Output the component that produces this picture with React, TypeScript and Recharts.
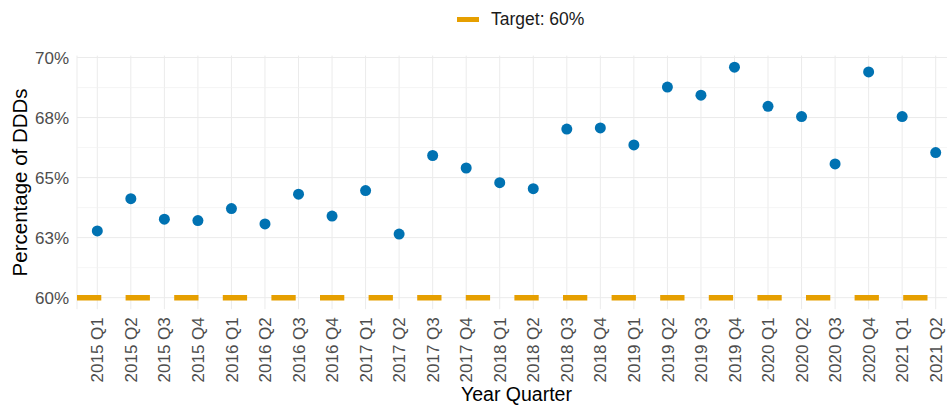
import {
  ComposedChart,
  Line,
  XAxis,
  YAxis,
  CartesianGrid,
  ReferenceLine,
  Label,
} from "recharts";

const quarters = [
  "2015 Q1", "2015 Q2", "2015 Q3", "2015 Q4",
  "2016 Q1", "2016 Q2", "2016 Q3", "2016 Q4",
  "2017 Q1", "2017 Q2", "2017 Q3", "2017 Q4",
  "2018 Q1", "2018 Q2", "2018 Q3", "2018 Q4",
  "2019 Q1", "2019 Q2", "2019 Q3", "2019 Q4",
  "2020 Q1", "2020 Q2", "2020 Q3", "2020 Q4",
  "2021 Q1", "2021 Q2",
];

const percentDDDs = [
  62.78, 64.12, 63.27, 63.21,
  63.71, 63.07, 64.31, 63.40,
  64.46, 62.65, 65.92, 65.40,
  64.79, 64.54, 67.02, 67.07,
  66.36, 68.77, 68.43, 69.60,
  67.97, 67.54, 65.57, 69.40,
  67.54, 66.04,
];

const target = 60;
const yTicks = [60, 62.5, 65, 67.5, 70];
const yMinor = [61.25, 63.75, 66.25, 68.75];

const data = quarters.map((q, i) => ({
  quarter: q,
  pct: percentDDDs[i],
}));

const FONT = "'Liberation Sans', Arial, sans-serif";

function QuarterTick({ x, y, payload }: any) {
  return (
    <text
      x={x}
      y={y}
      transform={`rotate(-90, ${x}, ${y})`}
      textAnchor="end"
      dy="0.36em"
      fill="#4d4d4d"
      fontSize={17}
      fontFamily={FONT}
    >
      {payload.value}
    </text>
  );
}

function YTitle() {
  const cx = 20;
  const cy = 182.4;
  return (
    <text
      x={cx}
      y={cy}
      transform={`rotate(-90, ${cx}, ${cy})`}
      textAnchor="middle"
      dy="0.36em"
      fill="#000"
      fontSize={20.5}
      fontFamily={FONT}
    >
      Percentage of DDDs
    </text>
  );
}

export default function App() {
  return (
    <div style={styles.page}>
      <div style={styles.legend}>
        <span style={styles.legendKey} />
        <span>Target: 60%</span>
      </div>

      <ComposedChart
        width={960}
        height={406}
        data={data}
        margin={{ top: 55.6, right: 4, bottom: 0, left: 0 }}
      >
        <CartesianGrid
          stroke="#ebebeb"
          strokeWidth={1}
          horizontalValues={yTicks}
        />
        <CartesianGrid
          stroke="#f0f0f0"
          strokeWidth={0.7}
          vertical={false}
          horizontalValues={yMinor}
        />

        <XAxis
          dataKey="quarter"
          interval={0}
          height={96.8}
          padding={{ left: 20.3, right: 20.3 }}
          axisLine={false}
          tickLine={false}
          tick={<QuarterTick />}
        >
          <Label
            value="Year Quarter"
            position="insideBottom"
            offset={5}
            fill="#000"
            fontSize={19.5}
            fontFamily={FONT}
          />
        </XAxis>

        <YAxis
          width={77}
          domain={[59.52, 70.08]}
          ticks={yTicks}
          axisLine={false}
          tickLine={false}
          tickFormatter={(v: number) => `${Math.round(v)}%`}
          tick={{ fill: "#4d4d4d", fontSize: 17, fontFamily: FONT }}
          label={{ content: () => <YTitle /> }}
        />

        <ReferenceLine
          y={target}
          stroke="#E69F00"
          strokeWidth={5.5}
          strokeDasharray="24.3 24.3"
        />

        <Line
          dataKey="pct"
          stroke="none"
          dot={{ r: 5.5, fill: "#0072B2", stroke: "#0072B2", strokeWidth: 0 }}
          activeDot={false}
          isAnimationActive={false}
        />
      </ComposedChart>
    </div>
  );
}

const styles: any = {
  page: {
    position: "absolute",
    left: 0,
    top: 0,
    width: 947,
    height: 406,
    overflow: "hidden",
    background: "white",
  },

  legend: {
    position: "absolute",
    left: 457,
    top: 8,
    height: 22,
    display: "flex",
    alignItems: "center",
    fontFamily: FONT,
    fontSize: 17.5,
    color: "#1a1a1a",
    zIndex: 1,
  },

  legendKey: {
    display: "inline-block",
    width: 22,
    height: 5,
    background: "#E69F00",
    marginRight: 12,
  },
};
